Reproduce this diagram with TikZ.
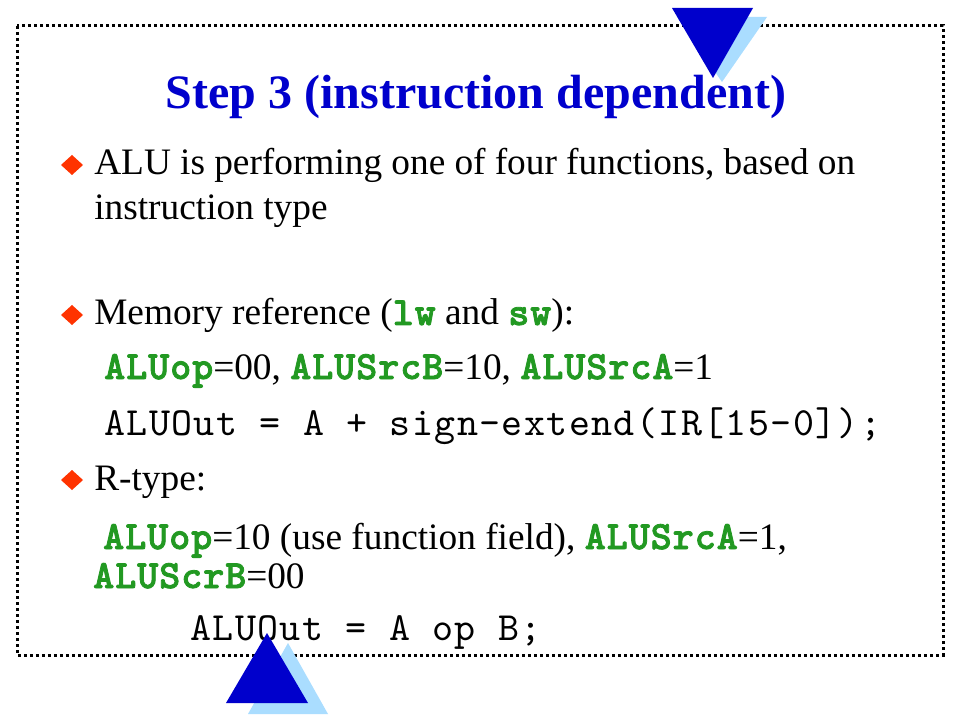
\documentclass[tikz,border=0pt]{standalone}
\usepackage{fontspec}
\setmainfont{Liberation Serif}
\newfontfamily\codefont{lmmono10-regular.otf}[LetterSpace=3.5]
\newfontfamily\codeboldfont{lmmonolt10-bold.otf}[LetterSpace=2.5,FakeBold=2]
\definecolor{titleblue}{RGB}{0,0,204}
\definecolor{codegreen}{RGB}{34,153,34}
\definecolor{lightblue}{RGB}{170,221,255}
\definecolor{bulletred}{RGB}{255,51,0}
\newcommand{\kwd}[1]{{\fontsize{30}{34}\selectfont\codeboldfont\color{codegreen}#1}}
\begin{document}
\begin{tikzpicture}[x=0.75pt,y=-0.75pt,
  txt/.style={inner sep=0pt, anchor=base west, font=\fontsize{28}{34}\selectfont},
  code/.style={inner sep=0pt, anchor=base west, font=\fontsize{30}{34}\selectfont\codefont},
  titletxt/.style={inner sep=0pt, anchor=base, text=titleblue, font=\fontsize{36}{42}\selectfont\bfseries},
  border/.style={line width=2.25pt, dash pattern=on 2.25pt off 2.25pt},
  bulletmark/.style={fill=bulletred},
  darktri/.style={fill=titleblue},
  lighttri/.style={fill=lightblue}]
\useasboundingbox (0,0) rectangle (960,720);
\fill[white] (0,0) rectangle (960,720);
\draw[border] (17,26) rectangle (943,655);

\node[titletxt] (title) at (476,109) {Step 3 (instruction dependent)};

\node[txt] (l1) at (94,175) {\makebox[570.75pt][s]{ALU is performing one of four functions, based on}};
\node[txt] (l2) at (94,220) {instruction type};
\node[txt] (l3) at (94,325) {Memory reference (\kwd{lw} and \kwd{sw}):};
\node[txt] (l4) at (104,379) {\kwd{ALUop}=00, \kwd{ALUSrcB}=10, \kwd{ALUSrcA}=1};
\node[code] (l5) at (104,435) {ALUOut = A + sign-extend(IR[15-0]);};
\node[txt] (l6) at (94,490) {R-type:};
\node[txt] (l7) at (103,549) {\kwd{ALUop}=10 (use function field), \kwd{ALUSrcA}=1,};
\node[txt] (l8) at (93,588) {\kwd{ALUScrB}=00};
\node[code] (l9) at (190,640) {ALUOut = A op B;};

\foreach \yy in {165,315,480}{
  \fill[bulletmark] (61,\yy) -- (72,\yy-10) -- (83,\yy) -- (72,\yy+10) -- cycle;
}

\fill[lighttri] (677,17) -- (767,17) -- (722,82) -- cycle;
\fill[darktri] (672,8) -- (753,8) -- (713,78) -- cycle;

\fill[lighttri] (248,714) -- (328,714) -- (288,643) -- cycle;
\fill[darktri] (226,703) -- (308,703) -- (267,633) -- cycle;
\end{tikzpicture}
\end{document}
